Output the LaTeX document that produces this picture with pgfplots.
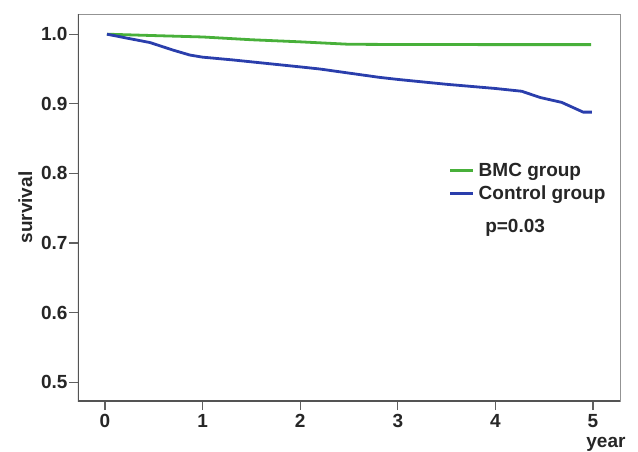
\documentclass[border=0pt]{standalone}
\usepackage{fontspec}
\setmainfont{Liberation Sans}
\usepackage{pgfplots}
\pgfplotsset{compat=1.18}
\usetikzlibrary{calc}

\definecolor{bmcgreen}{RGB}{72,176,58}
\definecolor{ctrlblue}{RGB}{42,62,172}
\definecolor{framegray}{RGB}{120,120,120}

\newcommand{\chartfont}{\bfseries\fontsize{19}{22}\selectfont}

\begin{document}
\begin{tikzpicture}
\begin{axis}[
	scale only axis,
	width=542pt, height=387pt,
	xmin=-0.277, xmax=5.277,
	ymin=0.473, ymax=1.029,
	xtick={0,1,2,3,4,5},
	ytick={0.5,0.6,0.7,0.8,0.9,1.0},
	yticklabel style={/pgf/number format/fixed, /pgf/number format/fixed zerofill, /pgf/number format/precision=1, xshift=2pt},
	/pgf/number format/assume math mode=true,
	ticklabel style={font=\chartfont, text=black!85},
	tick align=outside,
	xtick pos=bottom, ytick pos=left,
	major tick length=9pt,
	tick style={line width=1.2pt, color=framegray!80!black},
	xticklabel style={yshift=-1pt},
	axis line style={line width=0.8pt, color=framegray!80},
	xlabel={year},
	xlabel style={font=\chartfont, text=black!85, at={(rel axis cs:1,0)}, anchor=base east, xshift=9pt, yshift=-46pt},
	ylabel={survival},
	ylabel style={font=\chartfont, text=black!85, yshift=2pt},
	legend style={
		at={(axis cs:3.52,0.818)}, anchor=north west,
		draw=none, fill=none, font=\chartfont, text=black!85,
		row sep=4pt, inner sep=0pt,
		nodes={inner xsep=4pt},
	},
	legend cell align=left,
	legend image code/.code={\draw[#1, line width=3pt] (0pt,0pt) -- (23pt,0pt);},
]
\addplot[bmcgreen, line width=2.8pt] coordinates {
	(0.02,1.000) (0.5,0.998) (1.0,0.996) (1.5,0.992) (2.0,0.989)
	(2.5,0.9855) (3.0,0.9852) (4.0,0.9850) (4.98,0.9850)
};
\addlegendentry{BMC group}
\addplot[ctrlblue, line width=2.8pt] coordinates {
	(0.02,1.000) (0.2,0.995) (0.46,0.988) (0.7,0.977) (0.87,0.970)
	(1.0,0.967) (1.31,0.963) (2.0,0.953) (2.2,0.950) (2.81,0.938)
	(3.0,0.935) (3.5,0.928) (4.0,0.922) (4.27,0.918) (4.46,0.909)
	(4.68,0.902) (4.90,0.888) (4.99,0.888)
};
\addlegendentry{Control group}
\node[anchor=west, font=\chartfont, text=black!85] at (axis cs:3.86,0.7213) {p=0.03};
\draw[line width=1.6pt, color=framegray!70!black] (rel axis cs:0,1) -- (rel axis cs:0,0) -- (rel axis cs:1,0);
\end{axis}
\pgfresetboundingbox
\path ($(current axis.south west)+(-78pt,-50pt)$) rectangle ($(current axis.north east)+(18pt,14pt)$);
\end{tikzpicture}
\end{document}
